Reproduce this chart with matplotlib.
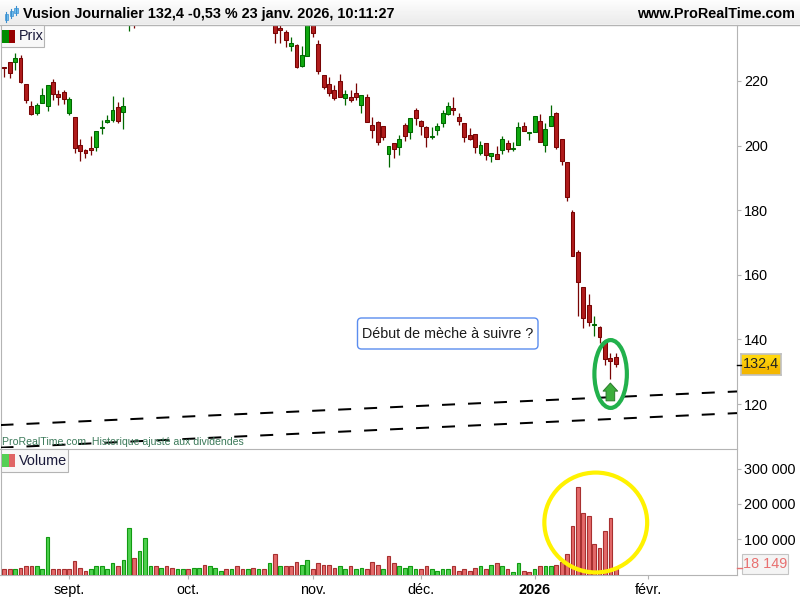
import numpy as np
import matplotlib
matplotlib.use('Agg')
import matplotlib.pyplot as plt
from matplotlib.patches import Ellipse, Rectangle, FancyBboxPatch
from matplotlib.transforms import IdentityTransform

plt.rcParams['font.family'] = ['Liberation Sans', 'DejaVu Sans']

n = np.nan

# cours journaliers (n = hors de la fenetre visible)
ouv = [224.2, 225.8, 225.8, 227.0, 219.0, 212.2, 210.2, 213.1, 212.2, 219.6, 215.9, 216.5, 210.2, 208.8, 200.1, 198.5, 199.2, 199.5, 205.3, 207.2,
       208.0, 211.8, 210.3, 238.0, 241.0, n, n, n, n, n, n, n, n, n, n, n, n, n, n, n,
       n, n, n, n, n, n, 240.0, n, n, n, 239.0, 236.3, 235.1, 230.9, 231.0, 224.7, 227.8, 240.0, 231.4, 221.8,
       219.0, 217.1, 219.9, 214.8, 214.9, 216.2, 212.4, 214.9, 206.3, 207.2, 206.0, 197.5, 200.7, 199.4, 206.3, 204.3, 210.9, 207.5, 205.7, 202.7,
       204.9, 207.1, 209.9, 211.5, 208.8, 206.9, 203.2, 203.5, 197.8, 200.7, 196.7, 197.3, 198.5, 200.7, 198.8, 200.1, 206.0, 203.8, 204.1, 207.5,
       200.1, 206.0, 210.0, 201.9, 194.8, 179.3, 167.0, 156.1, 150.5, 144.4, 143.7, 139.4, 134.1, 134.7]
haut = [224.2, 225.8, 228.7, 227.9, 219.0, 213.7, 213.1, 217.7, 218.7, 220.5, 217.1, 217.1, 214.9, 208.8, 201.9, 198.8, 203.0, 204.4, 207.8, 209.4,
        215.3, 213.4, 214.9, 241.0, 242.0, n, n, n, n, n, n, n, n, n, n, n, n, n, n, n,
        n, n, n, n, n, n, 241.0, n, n, n, 240.0, 238.0, 235.8, 233.5, 231.4, 230.8, 240.0, 241.0, 232.7, 221.8,
        221.2, 218.8, 222.2, 217.2, 217.2, 219.3, 215.6, 215.9, 208.8, 207.5, 206.0, 199.8, 200.7, 203.2, 206.9, 208.4, 211.5, 207.8, 206.0, 205.7,
        206.9, 210.9, 213.4, 214.9, 210.0, 206.9, 205.3, 203.5, 201.3, 200.7, 197.6, 199.9, 202.9, 201.6, 201.0, 207.2, 207.2, 204.1, 209.1, 209.8,
        206.9, 212.5, 210.3, 201.9, 194.8, 180.0, 167.6, 156.1, 154.0, 147.2, 144.0, 139.8, 135.7, 135.7]
bas = [221.3, 221.0, 223.5, 219.2, 213.3, 209.6, 209.3, 213.1, 210.8, 214.2, 212.4, 212.8, 209.6, 197.8, 195.3, 196.0, 197.2, 198.4, 203.7, 206.9,
       207.4, 206.9, 205.2, 235.5, 236.5, n, n, n, n, n, n, n, n, n, n, n, n, n, n, n,
       n, n, n, n, n, n, 237.2, n, n, n, 231.8, 231.8, 230.5, 229.3, 224.0, 224.4, 227.8, 233.6, 222.2, 217.6,
       215.4, 214.2, 215.1, 212.6, 213.6, 214.1, 210.1, 207.4, 202.2, 200.3, 201.8, 193.5, 196.1, 197.2, 201.5, 202.1, 206.2, 203.4, 199.4, 202.1,
       203.4, 205.6, 209.6, 209.5, 206.2, 201.2, 201.8, 197.8, 197.2, 195.6, 195.0, 195.7, 197.5, 198.1, 198.4, 200.1, 204.4, 201.8, 204.1, 201.0,
       198.1, 206.0, 199.0, 193.9, 182.7, 165.7, 147.3, 143.6, 144.3, 141.2, 138.8, 132.0, 127.6, 131.5]
clo = [223.9, 222.3, 227.0, 219.8, 214.2, 209.9, 212.5, 215.6, 218.7, 215.8, 214.9, 214.3, 214.3, 199.2, 198.4, 197.6, 198.5, 204.4, 205.7, 207.8,
       210.9, 207.5, 212.2, 240.0, 238.0, n, n, n, n, n, n, n, n, n, n, n, n, n, n, n,
       n, n, n, n, n, n, 238.5, n, n, n, 234.8, 235.6, 232.8, 231.7, 224.4, 227.9, 240.0, 234.7, 223.2, 218.2,
       216.4, 214.8, 215.1, 215.9, 214.2, 215.1, 215.6, 207.4, 204.9, 201.2, 202.5, 199.8, 198.8, 201.9, 203.1, 208.4, 208.6, 205.9, 202.6, 202.9,
       206.0, 210.0, 212.2, 210.9, 207.7, 202.5, 202.1, 199.4, 200.1, 197.0, 197.6, 195.7, 201.9, 198.8, 199.2, 205.7, 204.4, 204.1, 209.1, 201.0,
       205.0, 209.1, 199.7, 195.1, 184.0, 165.7, 157.7, 146.5, 145.3, 144.7, 140.6, 133.8, 133.2, 132.4]

volume = [17000, 14200, 17000, 19800, 22700, 25500, 22700, 14200, 107600, 14200, 14200, 17000, 14200, 39600, 19800, 11300, 17000, 22700, 22700, 17000,
          31200, 22700, 42500, 133100, 48100, 68000, 104800, 25500, 22700, 19800, 22700, 19800, 17000, 14200, 17000, 19800, 19800, 28300, 22700, 19800,
          11300, 17000, 14200, 22700, 14200, 14200, 19800, 17000, 17000, 34000, 59500, 25500, 22700, 25500, 36800, 28300, 42500, 14200, 31200, 28300,
          28300, 19800, 25500, 17000, 22700, 17000, 19800, 14200, 36800, 28300, 14200, 53800, 31200, 25500, 19800, 22700, 14200, 14200, 22700, 14200,
          11300, 14200, 14200, 22700, 11300, 17000, 11300, 19800, 22700, 17000, 28300, 31200, 25500, 14200, 5700, 34000, 11300, 5700, 14200, 22700,
          22700, 22700, 28300, 36800, 59500, 138800, 249200, 175600, 167100, 87800, 76500, 124600, 161400, 18149]
# couleur des barres de volume : g = hausse, r = baisse
vol_sens = ("rrgrrrgggrrrrrrr" "gggggrggrgggrgrrggrggrgggrgrrgrgrg"
            "rgrrrggrrrrrggrggrrrgrrggggrrggggrrrrrgrgrgrggrrg"
            "rggrrrrrrrrrrrr")

niv_prix = [120, 140, 160, 180, 200, 220]
niv_vol = [100000, 200000, 300000]
mois_pos = [12, 34, 57, 77, 98, 119]
mois_txt = ['sept.', 'oct.', 'nov.', 'déc.', '2026', 'févr.']

# droites de tendance (debut, fin) en prix
tendance_haut = [113.5, 123.9]
tendance_bas = [106.5, 117.2]

ROUGE_B, ROUGE_E = '#b01c1c', '#780404'
VERT_B, VERT_E = '#10a810', '#006800'
GRIS = '#b4b4b4'
W, H = 800, 600


def fx(x):
    return x / W


def fy(y):
    return 1 - y / H


fig = plt.figure(figsize=(8, 6), dpi=100, facecolor='white')

ax = fig.add_axes([fx(0.5), fy(448), fx(736.5), 423 / H])
av = fig.add_axes([fx(0.5), fy(574.5), fx(736.5), 126 / H])

x = np.arange(len(clo))
ouv, haut, bas, clo = map(np.array, (ouv, haut, bas, clo))
hausse = clo >= ouv

# --- prix ---
ax.vlines(x[hausse], bas[hausse], haut[hausse], color=VERT_E, lw=0.9, zorder=2)
ax.vlines(x[~hausse], bas[~hausse], haut[~hausse], color=ROUGE_E, lw=0.9, zorder=2)
h = np.abs(clo - ouv)
b = np.minimum(clo, ouv)
ax.bar(x[hausse], h[hausse], 0.72, b[hausse], color=VERT_B, edgecolor=VERT_E, lw=0.75, zorder=3)
ax.bar(x[~hausse], h[~hausse], 0.72, b[~hausse], color=ROUGE_B, edgecolor=ROUGE_E, lw=0.75, zorder=3)

xlim = (-0.70, 135.4)
ax.set_xlim(xlim)
ax.set_ylim(106.4, 237.3)
for t in (tendance_haut, tendance_bas):
    ax.plot(xlim, t, color='black', lw=1.44, dashes=(6.5, 6.5), dash_capstyle='butt', zorder=4)

ax.add_patch(Ellipse((112.05, 129.3), 6.0, 21, fill=False, ec='#22b14c', lw=3, zorder=5))
ax.annotate('', xy=(112, 126.5), xytext=(112, 121),
            arrowprops=dict(width=6.2, headwidth=10.5, headlength=5.8, shrink=0, fc='#3cae3c', ec='#2a7a2a', lw=0.7), zorder=6)

ax.yaxis.tick_right()
ax.set_yticks(niv_prix)
ax.set_xticks([])
ax.tick_params(axis='y', length=3, color=GRIS, labelsize=10.4, pad=2)
for s in ('top', 'bottom'):
    ax.spines[s].set_visible(False)
for s in ('left', 'right'):
    ax.spines[s].set_color(GRIS)

# commentaire
fig.add_artist(FancyBboxPatch((357.5, H - 349), 180.5, 31, boxstyle='round,pad=0,rounding_size=4',
                              transform=IdentityTransform(), fc='white', ec='#5b8def', lw=1))
fig.text(fx(447.5), fy(333.5), 'Début de mèche à suivre ?', fontsize=10.3, ha='center', va='center', color='#1a1a1a')
fig.text(fx(2), fy(442), 'ProRealTime.com  Historique ajusté aux dividendes', fontsize=7.55, ha='left', va='center', color='#3c7a5a')

# --- volume ---
coul_v = [('#e46a6a' if s == 'r' else '#4ed04e') for s in vol_sens]
bord_v = [('#a83030' if s == 'r' else '#129a12') for s in vol_sens]
av.bar(x, volume, 0.68, color=coul_v, edgecolor=bord_v, lw=0.8, zorder=3)
av.set_xlim(xlim)
av.set_ylim(0, 357000)
av.add_patch(Ellipse((109.3, 147300), 19, 283000, fill=False, ec='#fff200', lw=3, zorder=5))

av.yaxis.tick_right()
av.set_yticks(niv_vol)
av.set_yticklabels([f'{v:,}'.replace(',', ' ') for v in niv_vol])
av.set_xticks(mois_pos)
av.set_xticklabels(mois_txt)
av.get_xticklabels()[4].set_fontweight('bold')
av.tick_params(axis='y', length=3, color=GRIS, labelsize=10.4, pad=2)
av.tick_params(axis='x', length=3, color=GRIS, labelsize=10.4, pad=3)
for s in ('top', 'left', 'right', 'bottom'):
    av.spines[s].set_color(GRIS)

# --- bandeau du haut ---
bandeau = fig.add_axes([0, fy(24), 1, 24 / H])
bandeau.imshow(np.linspace(0.99, 0.92, 24)[:, None], aspect='auto', cmap='gray', vmin=0, vmax=1)
bandeau.axis('off')
fig.add_artist(plt.Line2D([0, 1], [fy(24.5)] * 2, color=GRIS, lw=1))
fig.text(fx(23), fy(14), 'Vusion Journalier 132,4 -0,53 % 23 janv. 2026, 10:11:27', fontsize=10.4, fontweight='bold', ha='left', va='center')
fig.text(fx(795), fy(14), 'www.ProRealTime.com', fontsize=10.4, fontweight='bold', ha='right', va='center')
# petit logo bougies
for lx, ly0, ly1, by0, by1 in [(6, 12, 22, 14, 20), (11, 9, 18, 11, 16), (16, 6, 15, 8, 13)]:
    fig.add_artist(plt.Line2D([fx(lx)] * 2, [fy(ly0), fy(ly1)], color='#3a8fd0', lw=0.8))
    fig.add_artist(Rectangle((fx(lx - 1.5), fy(by1)), fx(3), (by1 - by0) / H, fc='#6fc0f0', ec='#3a8fd0', lw=0.5, transform=fig.transFigure))


def legende(y0, y1, sy0, sy1, larg, nom, c1, c2):
    fig.add_artist(Rectangle((fx(1), fy(y1)), fx(larg), (y1 - y0) / H, fc='#f8f8f8', ec=GRIS, lw=0.8, transform=fig.transFigure, zorder=8))
    fig.add_artist(Rectangle((fx(2), fy(sy1)), fx(6.5), (sy1 - sy0) / H, fc=c1, ec='none', transform=fig.transFigure, zorder=9))
    fig.add_artist(Rectangle((fx(8.5), fy(sy1)), fx(6.5), (sy1 - sy0) / H, fc=c2, ec='none', transform=fig.transFigure, zorder=9))
    fig.text(fx(19), fy((y0 + y1) / 2 + 0.5), nom, fontsize=10.4, ha='left', va='center', color='#1a1a3a', zorder=9)


legende(25, 47, 30, 43, 43, 'Prix', '#008c00', '#960000')
legende(449, 472, 454, 467, 67, 'Volume', '#55d055', '#e06666')

# etiquettes de derniere valeur
etiq = fig.add_axes([fx(741), fy(375), fx(40), 21 / H])
etiq.imshow(np.array([[[1.0, 0.84, 0.05]], [[0.96, 0.72, 0.0]]]), aspect='auto', interpolation='bilinear')
etiq.set_xticks([])
etiq.set_yticks([])
for s in etiq.spines.values():
    s.set_color('#c0c0c0')
    s.set_linewidth(1.2)
fig.text(fx(761), fy(364.5), '132,4', fontsize=10.4, ha='center', va='center', color='#222222')
fig.add_artist(plt.Line2D([fx(737), fx(741)], [fy(364.5)] * 2, color='black', lw=1))
fig.add_artist(Rectangle((fx(742), fy(573.5)), fx(46), 19.5 / H, fc='#f4f4f4', ec='#c4c4c4', lw=0.8, transform=fig.transFigure))
fig.text(fx(765), fy(564), '18 149', fontsize=10.4, ha='center', va='center', color='#e87070')
fig.add_artist(plt.Line2D([fx(737), fx(742)], [fy(568)] * 2, color='#e87070', lw=1))

fig.savefig('out.png', dpi=100)
